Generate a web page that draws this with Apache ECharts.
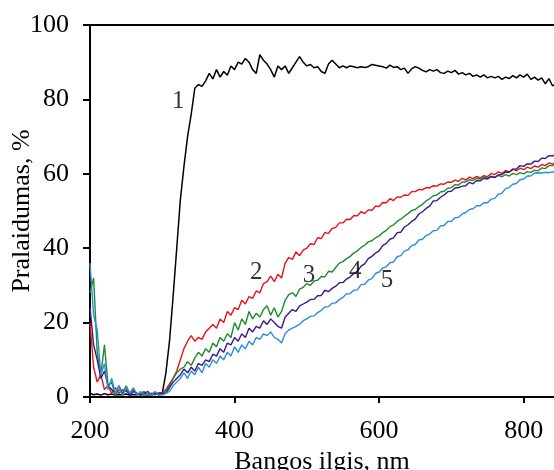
<!DOCTYPE html>
<html>
<head>
<meta charset="utf-8">
<script src="https://cdn.jsdelivr.net/npm/echarts@6/dist/echarts.min.js"></script>
<style>
  html, body { margin: 0; padding: 0; background: #fff; }
  #chart { width: 554px; height: 470px; }
</style>
</head>
<body>
<div id="chart"></div>
<script>
// Wavelength grid, nm
const wavelengths = [
  200, 205, 210, 215, 220, 225, 230, 235, 240, 245,
  250, 255, 260, 265, 270, 275, 280, 285, 290, 295,
  300, 305, 310, 315, 320, 325, 330, 335, 340, 345,
  350, 355, 360, 365, 370, 375, 380, 385, 390, 395,
  400, 405, 410, 415, 420, 425, 430, 435, 440, 445,
  450, 455, 460, 465, 470, 475, 480, 485, 490, 495,
  500, 505, 510, 515, 520, 525, 530, 535, 540, 545,
  550, 555, 560, 565, 570, 575, 580, 585, 590, 595,
  600, 605, 610, 615, 620, 625, 630, 635, 640, 645,
  650, 655, 660, 665, 670, 675, 680, 685, 690, 695,
  700, 705, 710, 715, 720, 725, 730, 735, 740, 745,
  750, 755, 760, 765, 770, 775, 780, 785, 790, 795,
  800, 805, 810, 815, 820, 825, 830, 835, 840, 845
];

// Transmittance, % (curves 1..5)
const curve1 = [
  1.0, 0.6, 0.8, 0.5, 0.9, 0.6, 0.8, 0.5, 0.7, 0.6,
  0.8, 0.5, 0.7, 0.6, 0.8, 0.5, 0.7, 0.6, 0.8, 0.9,
  1.0, 6.5, 15, 27, 40, 53, 62, 70, 76, 83,
  84, 83.5, 85, 87, 85.5, 88, 86, 87.5, 86.5, 89,
  88, 90, 89.5, 91, 90, 88, 87, 92, 90.5, 89.5,
  88, 86, 89, 88, 89, 87, 88.5, 90, 91.5, 90,
  89, 89.4, 88.5, 88.8, 87.5, 87, 89.5, 90.5, 89.5, 88.5,
  89, 88.5, 89, 88.8, 88.5, 88.8, 88.6, 88.8, 89.4, 89.2,
  89, 88.8, 88.4, 89.2, 88.6, 88.8, 88, 88.4, 87, 88.2,
  88.8, 88.4, 87.8, 87.4, 88, 87.6, 88, 87.2, 87, 87.6,
  87.2, 87.8, 86.8, 87.2, 86.6, 87, 86.2, 86.6, 86, 86.6,
  85.8, 86.2, 85.8, 86.2, 85.4, 86, 85.6, 86.4, 85.8, 86.6,
  86, 86.8, 85.4, 86, 85.2, 85.8, 84.2, 85.6, 83.6, 84.5
];
const curve2 = [
  20, 8, 4, 6, 2, 3, 1, 2.5, 1, 2,
  1.5, 1, 2, 1, 0.5, 1.2, 0.5, 1, 0.6, 1,
  1.2, 2, 3.5, 5, 7, 10, 13, 15, 16.5, 15,
  16, 15.5, 17.5, 18.5, 19.5, 18.5, 21, 20, 23, 22,
  24, 23.5, 26, 25, 27, 26.5, 28.5, 28, 30.5, 31,
  32.5, 31, 33, 32, 36, 37.5, 37, 39, 38, 39.5,
  40, 41.2, 41, 42.8, 42.6, 44.2, 44, 45.3, 45.6, 46.8,
  46.8, 47.8, 47.7, 48.8, 48.7, 49.8, 49.3, 50.3, 50.2, 51.3,
  51.2, 52.3, 52.2, 53.3, 52.8, 53.8, 53.7, 54.3, 54.2, 55.2,
  55.2, 55.8, 55.7, 56.3, 56.2, 56.8, 56.7, 57.3, 57.2, 57.8,
  57.7, 58.3, 58, 58.8, 58.3, 59.1, 58.7, 59.3, 58.9, 59.5,
  59.2, 60.1, 59.8, 60.5, 60.1, 60.9, 60.5, 61.3, 60.8, 61.5,
  61.1, 61.8, 61.4, 62.1, 61.8, 62.5, 62.2, 62.9, 62.6, 63.1
];
const curve3 = [
  28, 32, 12, 6, 14, 3, 4, 0.3, 2, 1,
  3, 1, 2, 0.5, 1, 1.5, 0.5, 1, 1, 0.5,
  1, 1.5, 3, 5, 6.5, 7.5, 8, 9.5, 8.5, 10.5,
  12, 11, 13, 12, 14.5, 13.5, 16, 15, 17, 16,
  20, 18, 21, 19.5, 23, 21, 22.5, 21.5, 23.5, 24.5,
  22, 24, 21.5, 23, 26, 27.5, 28, 27, 29, 29.5,
  30.5, 30, 31.2, 31.4, 32.4, 32.3, 33.8, 33.6, 34.8, 36,
  36.4, 37.2, 37.8, 38.7, 39.3, 40.2, 40.8, 41.7, 42, 42.8,
  43.3, 44.2, 44.8, 45.8, 46.3, 47.2, 47.8, 48.6, 49.3, 50.1,
  50.4, 51.2, 51.8, 52.7, 53.3, 54.1, 54.3, 55.1, 55.3, 56.1,
  56.3, 57.1, 57, 57.8, 57.8, 58.4, 58.2, 58.8, 58.6, 59.2,
  58.8, 59.4, 59, 59.6, 59.2, 59.8, 59.4, 60.1, 59.8, 60.3,
  60, 60.6, 60.4, 61, 60.8, 61.6, 61.4, 62.2, 62.2, 62.8
];
const curve4 = [
  24, 14, 10, 5, 7, 3, 2, 1, 3, 1,
  2, 0.5, 1.5, 1, 0.5, 1, 1.5, 0.5, 1, 1,
  1, 1, 2.5, 4, 5, 6, 7.5, 6.5, 8, 7,
  9, 8.5, 10, 9.5, 11.5, 11, 13, 12, 14.5, 14,
  16, 15, 17, 16, 18.5, 17.5, 19, 18.5, 20.5, 19.5,
  21, 20, 19, 18.5, 21.5, 22.5, 23.5, 23, 24.5, 25,
  25.5, 26.2, 26.3, 27.2, 27.3, 28.7, 28.3, 29.2, 29.8, 30.7,
  30.8, 31.7, 32.3, 33.2, 33.8, 35.2, 35.8, 37.2, 37.8, 38.7,
  39.3, 40.7, 41.3, 42.4, 42.8, 44.2, 44.3, 45.7, 46.3, 47.2,
  47.8, 49.2, 49.8, 50.7, 51.3, 52.7, 52.8, 53.7, 54.3, 55.2,
  55.3, 56.2, 56.3, 56.7, 56.8, 57.7, 57.3, 58.2, 58.1, 58.8,
  58.6, 59.2, 59, 59.7, 59.8, 60.5, 60.4, 61.2, 61.3, 62.2,
  62, 62.7, 62.6, 63.4, 63.3, 64.2, 64.1, 64.9, 64.8, 65.3
];
const curve5 = [
  36, 22, 18, 6, 9, 2, 5, 1, 3, 0.3,
  2.5, 1, 2.5, 0.5, 1.5, 0.5, 1, 0.5, 1.5, 0.5,
  0.5, 1, 1.5, 3, 4, 5, 6.5, 5, 7, 6,
  8, 6.5, 9, 8, 10, 9, 11, 10, 12, 11,
  13.5, 12, 14, 13, 15, 14, 16, 15.5, 17, 16.5,
  17.5, 16, 15.5, 14.5, 17, 18, 18.5, 19, 19.5, 20.5,
  21, 21.7, 21.8, 22.7, 23.3, 24.2, 24.3, 25.2, 25.3, 26.2,
  26.8, 27.7, 27.8, 28.7, 28.8, 30.2, 30.3, 31.4, 31.8, 33.2,
  33.6, 34.7, 35, 36.1, 36.3, 37.7, 38, 39.2, 39.6, 40.7,
  41, 42.2, 42.4, 43.4, 43.8, 44.7, 44.8, 46, 46.1, 47.2,
  47.2, 48.2, 48.3, 49.2, 49.6, 50.4, 50.6, 51.4, 51.4, 52.2,
  52.2, 53.2, 53.4, 54.5, 54.8, 56, 56.3, 57.2, 57.4, 58.4,
  58.6, 59.4, 59.4, 60.2, 60.3, 60.2, 60.4, 60.3, 60.5, 60.6
];

// Curve number tags, placed in data coordinates (nm, %)
const curveTags = ['1', '2', '3', '4', '5'];
const tagX = [322, 430, 503, 567, 611];
const tagY = [79.4, 33.6, 32.8, 33.7, 31.4];

const xTicks = [200, 400, 600, 800];
const yTicks = [0, 20, 40, 60, 80, 100];

const curves = [curve1, curve2, curve3, curve4, curve5];
const colors = ['#000000', '#e8131b', '#1e8c2c', '#3b1888', '#2a8fd6'];

const FONT = '"Liberation Serif", "Times New Roman", serif';

const chart = echarts.init(document.getElementById('chart'), null, { renderer: 'canvas' });

const lineSeries = curves.map((vals, i) => ({
  type: 'line',
  name: curveTags[i],
  data: wavelengths.map((w, k) => [w, vals[k]]),
  showSymbol: false,
  symbol: 'none',
  clip: true,
  lineStyle: { color: colors[i], width: i === 0 ? 1.5 : 1.4 },
  z: 2 + i
}));

const tagSeries = {
  type: 'scatter',
  data: tagX.map((x, i) => ({ name: curveTags[i], value: [x, tagY[i]] })),
  symbolSize: 1,
  itemStyle: { color: 'rgba(0,0,0,0)' },
  label: {
    show: true,
    position: 'inside',
    formatter: p => p.name,
    fontFamily: FONT,
    fontSize: 25,
    color: '#000'
  },
  z: 10,
  silent: true
};

chart.setOption({
  animation: false,
  backgroundColor: '#fff',
  grid: { left: 90, right: 0, top: 25, bottom: 73, containLabel: false, outerBoundsMode: 'none' },
  xAxis: [
    {
      type: 'value',
      min: 200,
      max: 842,
      interval: 200,
      name: 'Bangos ilgis, nm',
      nameLocation: 'middle',
      nameGap: 47,
      nameTextStyle: { fontFamily: FONT, fontSize: 26, color: '#000' },
      axisLine: { show: true, onZero: false, lineStyle: { color: '#000', width: 2 } },
      axisTick: { show: true, inside: false, length: 6, lineStyle: { color: '#000', width: 2 } },
      axisLabel: {
        fontFamily: FONT, fontSize: 26, color: '#000', margin: 21,
        showMaxLabel: false,
        formatter: v => (xTicks.includes(v) ? String(v) : '')
      },
      splitLine: { show: false }
    },
    {
      type: 'value',
      position: 'top',
      min: 200,
      max: 842,
      axisLine: { show: true, onZero: false, lineStyle: { color: '#000', width: 2 } },
      axisTick: { show: false },
      axisLabel: { show: false },
      splitLine: { show: false }
    }
  ],
  yAxis: {
    type: 'value',
    min: 0,
    max: 100,
    interval: 20,
    name: 'Pralaidumas, %',
    nameLocation: 'middle',
    nameGap: 55,
    nameMoveOverlap: false,
    nameTextStyle: { fontFamily: FONT, fontSize: 26, color: '#000' },
    axisLine: { show: true, onZero: false, lineStyle: { color: '#000', width: 2 } },
    axisTick: { show: true, inside: false, length: 7, lineStyle: { color: '#000', width: 2 } },
    axisLabel: {
      fontFamily: FONT, fontSize: 26, color: '#000', margin: 21,
      formatter: v => (yTicks.includes(v) ? String(v) : '')
    },
    splitLine: { show: false }
  },
  series: [...lineSeries, tagSeries]
});
</script>
</body>
</html>
